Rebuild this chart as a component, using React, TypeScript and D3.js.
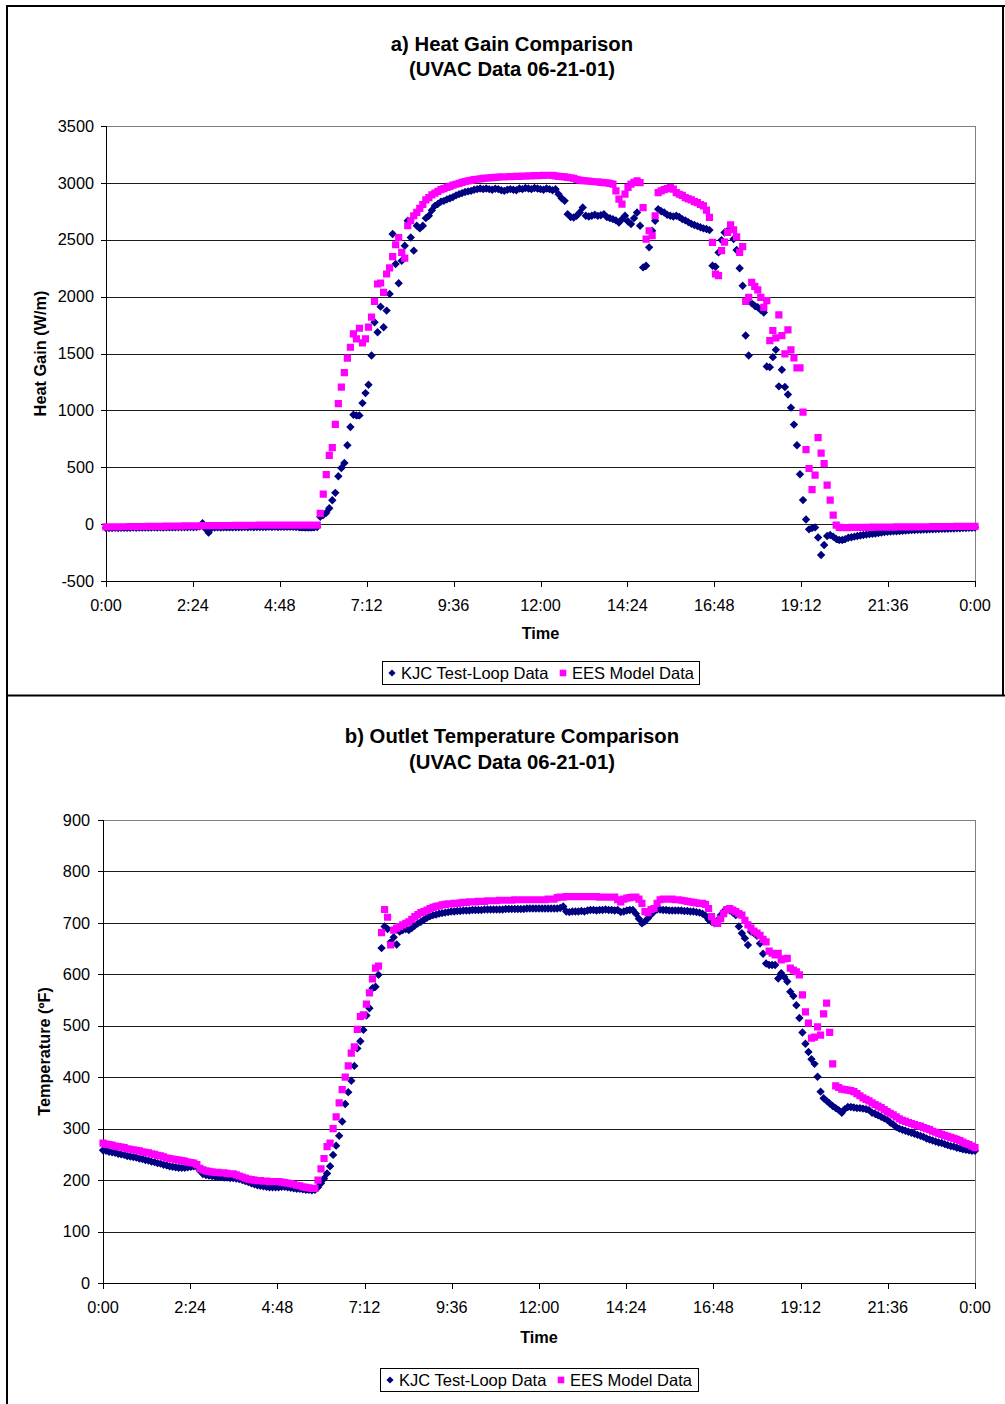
import React from 'react';
import * as d3 from 'd3';

// ---------- data ----------
const timeTickLabels = ['0:00', '2:24', '4:48', '7:12', '9:36', '12:00', '14:24', '16:48', '19:12', '21:36', '0:00'];
const heatTicks = [-500, 0, 500, 1000, 1500, 2000, 2500, 3000, 3500];
const tempTicks = [0, 100, 200, 300, 400, 500, 600, 700, 800, 900];
const seriesNames = ['KJC Test-Loop Data', 'EES Model Data'];

// sample times (minutes after midnight), one reading every 5 minutes
const minutes = d3.range(0, 1441, 5);

const kjcHeatGain = [
  -35, -34, -35, -33, -34, -33, -32, -33, -32, -31, -32, -31,
  -31, -30, -31, -30, -29, -30, -29, -30, -29, -28, -29, -28,
  -28, -27, -28, -27, -26, -27, -26, -20, 8, -40, -75, -35,
  -30, -29, -30, -29, -28, -29, -28, -27, -28, -27, -26, -27,
  -26, -27, -26, -25, -26, -25, -24, -25, -24, -25, -24, -23,
  -24, -23, -24, -25, -27, -29, -30, -31, -30, -29, -26, 64,
  80, 100, 140, 210, 275, 421, 494, 538, 693, 854, 962, 956,
  956, 1064, 1152, 1225, 1482, 1775, 1687, 1912, 1731, 1877, 2024, 2550,
  2287, 2117, 2316, 2447, 2667, 2520, 2404, 2623, 2600, 2623, 2690, 2711,
  2760, 2798, 2815, 2835, 2842, 2855, 2865, 2875, 2890, 2901, 2910, 2920,
  2925, 2930, 2940, 2945, 2950, 2945, 2950, 2945, 2940, 2948, 2945, 2935,
  2930, 2940, 2945, 2940, 2935, 2950, 2945, 2955, 2950, 2945, 2955, 2950,
  2945, 2940, 2950, 2945, 2935, 2945, 2900, 2865, 2842, 2725, 2700, 2696,
  2711, 2740, 2783, 2711, 2705, 2711, 2720, 2710, 2715, 2725, 2700, 2690,
  2681, 2670, 2652, 2680, 2711, 2660, 2638, 2690, 2740, 2623, 2257, 2272,
  2433, 2579, 2667, 2769, 2750, 2740, 2720, 2711, 2705, 2711, 2700, 2681,
  2670, 2655, 2640, 2630, 2620, 2610, 2600, 2594, 2585, 2272, 2263, 2389,
  2497, 2564, 2580, 2594, 2506, 2410, 2250, 2096, 1658, 1482, 1941, 1920,
  1906, 1883, 1860, 1386, 1380, 1468, 1532, 1211, 1357, 1205, 1140, 1024,
  875, 693, 439, 211, 41, -46, -35, -29, -117, -272, -184, -105,
  -96, -110, -130, -140, -140, -132, -120, -115, -110, -105, -100, -96,
  -92, -88, -85, -82, -78, -75, -70, -67, -65, -63, -62, -60,
  -58, -56, -55, -53, -52, -50, -49, -48, -47, -46, -45, -44,
  -43, -42, -41, -40, -39, -38, -37, -36, -35, -34, -33, -32,
  -30,
];

const eesHeatGain = [
  -25, -25, -24, -24, -24, -23, -23, -23, -22, -22, -22, -21,
  -21, -21, -20, -20, -20, -19, -19, -19, -18, -18, -18, -17,
  -17, -17, -16, -16, -16, -15, -15, -15, -14, -14, -14, -13,
  -13, -13, -13, -12, -12, -12, -12, -11, -11, -11, -11, -10,
  -10, -10, -10, -9, -9, -9, -9, -9, -8, -8, -8, -8,
  -8, -8, -8, -8, -8, -8, -8, -8, -8, -8, -8, 94,
  263, 436, 605, 673, 877, 1059, 1205, 1331, 1459, 1555, 1673, 1629,
  1722, 1594, 1629, 1731, 1819, 1959, 2111, 2120, 2038, 2199, 2252, 2351,
  2456, 2520, 2389, 2339, 2623, 2667, 2711, 2740, 2775, 2810, 2850, 2870,
  2895, 2910, 2925, 2940, 2950, 2960, 2970, 2980, 2988, 2995, 3005, 3012,
  3018, 3022, 3028, 3032, 3036, 3040, 3042, 3044, 3046, 3048, 3050, 3052,
  3053, 3054, 3055, 3056, 3057, 3058, 3059, 3060, 3061, 3062, 3063, 3064,
  3065, 3066, 3067, 3067, 3066, 3062, 3058, 3055, 3052, 3048, 3045, 3040,
  3030, 3025, 3020, 3018, 3015, 3012, 3010, 3008, 3005, 3003, 3000, 2995,
  2989, 2930, 2857, 2813, 2901, 2960, 2989, 3005, 3018, 3003, 2783, 2506,
  2579, 2535, 2711, 2915, 2930, 2940, 2950, 2959, 2945, 2915, 2900, 2890,
  2871, 2860, 2850, 2835, 2827, 2810, 2798, 2760, 2696, 2477, 2199, 2184,
  2404, 2480, 2564, 2632, 2588, 2526, 2389, 2439, 1959, 1994, 2126, 2090,
  2059, 1994, 1906, 1965, 1614, 1702, 1638, 1840, 1658, 1497, 1708, 1532,
  1462, 1374, 1374, 985, 655, 489, 304, 430, 761, 625, 532, 342,
  211, 79, -9, -29, -30, -30, -30, -29, -29, -29, -28, -28,
  -28, -28, -27, -27, -27, -27, -26, -26, -26, -26, -25, -25,
  -25, -25, -24, -24, -24, -24, -23, -23, -23, -23, -22, -22,
  -22, -22, -21, -21, -21, -21, -20, -20, -20, -20, -19, -19,
  -19,
];

const kjcOutletTemp = [
  258, 257, 255, 254, 253, 251, 250, 249, 247, 246, 245, 244,
  242, 241, 239, 238, 236, 235, 233, 232, 230, 229, 227, 226,
  225, 224, 224, 224, 225, 226, 227, 226, 218, 212, 210, 209,
  208, 207, 206, 206, 205, 205, 204, 204, 203, 202, 200, 198,
  196, 194, 192, 190, 189, 188, 187, 186, 186, 186, 186, 187,
  187, 186, 185, 184, 183, 183, 182, 181, 181, 180, 181, 186,
  194, 203, 213, 227, 249, 267, 286, 314, 348, 371, 393, 422,
  456, 470, 492, 520, 534, 573, 576, 599, 651, 693, 688, 663,
  672, 658, 683, 686, 688, 686, 690, 695, 699, 702, 706, 710,
  713, 715, 716, 718, 719, 720, 721, 722, 722, 723, 723, 724,
  724, 724, 725, 725, 725, 725, 726, 726, 726, 726, 726, 726,
  726, 727, 727, 727, 727, 727, 727, 727, 728, 728, 728, 728,
  728, 728, 728, 728, 728, 728, 728, 729, 732, 722, 721, 722,
  722, 722, 723, 722, 724, 725, 725, 724, 725, 725, 726, 725,
  725, 724, 725, 721, 722, 724, 725, 725, 718, 708, 699, 703,
  709, 716, 722, 726, 726, 725, 725, 724, 724, 724, 724, 724,
  723, 723, 722, 722, 721, 720, 718, 714, 706, 702, 699, 705,
  715, 722, 725, 724, 720, 715, 693, 680, 670, 657, 683, 680,
  675, 660, 640, 621, 618, 618, 618, 592, 602, 595, 586, 566,
  558, 540, 515, 487, 465, 449, 435, 426, 401, 372, 359, 354,
  349, 344, 340, 336, 331, 338, 342, 342, 341, 340, 340, 339,
  338, 336, 331, 329, 326, 323, 320, 317, 312, 308, 303, 300,
  298, 296, 294, 292, 290, 288, 286, 284, 281, 279, 277, 275,
  273, 272, 270, 268, 266, 265, 263, 262, 260, 259, 258, 257,
  257,
];

const eesOutletTemp = [
  272, 270, 269, 268, 266, 265, 264, 263, 261, 260, 259, 258,
  257, 255, 254, 253, 251, 250, 248, 247, 245, 243, 242, 241,
  240, 239, 238, 237, 235, 234, 233, 230, 223, 220, 218, 217,
  216, 215, 215, 214, 214, 213, 212, 212, 210, 208, 206, 204,
  202, 201, 200, 199, 199, 198, 198, 197, 197, 197, 197, 196,
  195, 194, 193, 192, 190, 189, 187, 186, 185, 184, 184, 200,
  222, 242, 265, 272, 300, 323, 350, 376, 400, 422, 447, 459,
  493, 518, 521, 542, 564, 591, 612, 616, 681, 726, 711, 657,
  686, 690, 693, 696, 699, 702, 707, 712, 716, 720, 722, 725,
  728, 730, 732, 733, 735, 736, 737, 737, 738, 738, 739, 740,
  740, 741, 741, 741, 742, 742, 742, 743, 743, 743, 743, 744,
  744, 744, 744, 744, 745, 745, 745, 745, 745, 745, 745, 745,
  745, 745, 745, 746, 746, 746, 749, 750, 750, 751, 751, 751,
  751, 751, 751, 751, 751, 751, 751, 751, 750, 750, 750, 750,
  750, 750, 745, 741, 746, 748, 749, 750, 750, 746, 738, 722,
  720, 726, 728, 738, 745, 746, 746, 746, 746, 745, 745, 744,
  743, 742, 741, 740, 739, 738, 738, 736, 728, 712, 702, 699,
  708, 718, 726, 728, 725, 722, 718, 715, 705, 696, 690, 684,
  680, 676, 668, 663, 645, 641, 638, 641, 628, 630, 631, 612,
  608, 605, 599, 560, 527, 505, 476, 478, 498, 482, 523, 544,
  487, 426, 383, 380, 377, 376, 375, 374, 372, 368, 364, 360,
  357, 354, 350, 347, 344, 341, 337, 333, 330, 327, 323, 319,
  316, 314, 312, 310, 308, 306, 305, 302, 300, 298, 295, 293,
  291, 289, 287, 285, 283, 281, 279, 277, 274, 271, 269, 266,
  263,
];

// ---------- styling ----------
const FONT = '"Liberation Sans", Arial, Helvetica, sans-serif';
const NAVY = '#000080';
const MAGENTA = '#FF00FF';
const DIAMOND_R = 4.2;
const SQUARE = 7.2;

type PanelProps = {
  left: number; right: number; top: number; bottom: number;
  yDomain: [number, number];
  yTicks: number[];
  kjc: number[];
  ees: number[];
  title1: string; title2: string;
  title1Y: number; title2Y: number;
  yLabel: string; yLabelX: number;
  xLabelY: number; timeY: number;
  legendX: number; legendY: number; legendW: number;
  yLabelGap: number;
};

function diamondPath(xs: number[], ys: number[], r = DIAMOND_R) {
  return xs.map((x, i) => `M${x},${ys[i] - r}L${x + r},${ys[i]}L${x},${ys[i] + r}L${x - r},${ys[i]}Z`).join('');
}
function squarePath(xs: number[], ys: number[], s = SQUARE) {
  return xs.map((x, i) => `M${x - s / 2},${ys[i] - s / 2}h${s}v${s}h${-s}Z`).join('');
}

function Panel(p: PanelProps) {
  const x = d3.scaleLinear().domain([0, 1440]).range([p.left, p.right]);
  const y = d3.scaleLinear().domain(p.yDomain).range([p.bottom, p.top]);
  const xTicks = d3.range(0, 1441, 144);
  const cx = (p.left + p.right) / 2;
  const cy = (p.top + p.bottom) / 2;
  const xs = minutes.map((t) => x(t));
  const kjcY = p.kjc.map((v) => y(v));
  const eesY = p.ees.map((v) => y(v));
  const lx = p.legendX;
  const ly = p.legendY;
  const lh = 23;
  const lmid = ly + lh / 2;
  return (
    <g fontFamily={FONT}>
      <text x={512} y={p.title1Y} textAnchor="middle" fontSize={20.3} fontWeight="bold">{p.title1}</text>
      <text x={512} y={p.title2Y} textAnchor="middle" fontSize={20.3} fontWeight="bold">{p.title2}</text>

      {/* gridlines */}
      {p.yTicks.slice(1, -1).map((v) => (
        <line key={v} x1={p.left} x2={p.right} y1={Math.round(y(v)) + 0.5} y2={Math.round(y(v)) + 0.5} stroke="#1a1a1a" strokeWidth={1} />
      ))}
      {/* plot area border (top / right) */}
      <line x1={p.left} x2={p.right} y1={p.top + 0.5} y2={p.top + 0.5} stroke="#808080" strokeWidth={1} />
      <line x1={p.right + 0.5} x2={p.right + 0.5} y1={p.top} y2={p.bottom} stroke="#808080" strokeWidth={1} />
      {/* axes */}
      <line x1={p.left + 0.5} x2={p.left + 0.5} y1={p.top} y2={p.bottom} stroke="#000" strokeWidth={1} />
      <line x1={p.left} x2={p.right} y1={p.bottom + 0.5} y2={p.bottom + 0.5} stroke="#000" strokeWidth={1} />
      {p.yTicks.map((v) => (
        <g key={'yt' + v}>
          <line x1={p.left - 5} x2={p.left} y1={Math.round(y(v)) + 0.5} y2={Math.round(y(v)) + 0.5} stroke="#000" />
          <text x={p.left - p.yLabelGap} y={y(v)} dy="0.35em" textAnchor="end" fontSize={16.3}>{v}</text>
        </g>
      ))}
      {xTicks.map((t, i) => (
        <g key={'xt' + i}>
          <line x1={Math.round(x(t)) + 0.5} x2={Math.round(x(t)) + 0.5} y1={p.bottom} y2={p.bottom + 6} stroke="#000" />
          <text x={x(t)} y={p.xLabelY} textAnchor="middle" fontSize={16.3}>{timeTickLabels[i]}</text>
        </g>
      ))}
      <text x={cx} y={p.timeY} textAnchor="middle" fontSize={16.3} fontWeight="bold">Time</text>
      <text transform={`translate(${p.yLabelX},${cy}) rotate(-90)`} textAnchor="middle" dy="0.35em" fontSize={16.3} fontWeight="bold">{p.yLabel}</text>

      {/* data */}
      <path d={diamondPath(xs, kjcY)} fill={NAVY} />
      <path d={squarePath(xs, eesY)} fill={MAGENTA} />

      {/* legend */}
      <rect x={lx + 0.5} y={ly + 0.5} width={p.legendW} height={lh} fill="#fff" stroke="#000" strokeWidth={1} />
      <path d={diamondPath([lx + 10], [lmid + 0.5], 3.6)} fill={NAVY} />
      <text x={lx + 19} y={lmid + 0.5} dy="0.35em" fontSize={16.5}>{seriesNames[0]}</text>
      <path d={squarePath([lx + 181], [lmid + 0.5], 6.6)} fill={MAGENTA} />
      <text x={lx + 190} y={lmid + 0.5} dy="0.35em" fontSize={16.5}>{seriesNames[1]}</text>
    </g>
  );
}

export default function App() {
  return (
    <svg width={1005} height={1404} style={{ position: 'absolute', left: 0, top: 0, background: '#fff' }}>
      <rect x={0} y={0} width={1005} height={1404} fill="#fff" />
      {/* frames */}
      <line x1={7} x2={7} y1={5} y2={1404} stroke="#000" strokeWidth={2} />
      <line x1={6} x2={1005} y1={6} y2={6} stroke="#000" strokeWidth={2} />
      <line x1={1003} x2={1003} y1={5} y2={696} stroke="#000" strokeWidth={2} />
      <line x1={6} x2={1005} y1={695.5} y2={695.5} stroke="#000" strokeWidth={2} />

      <Panel
        left={106} right={975} top={126} bottom={581}
        yDomain={[-500, 3500]} yTicks={heatTicks}
        kjc={kjcHeatGain} ees={eesHeatGain}
        title1="a) Heat Gain Comparison" title2="(UVAC Data 06-21-01)"
        title1Y={51} title2Y={76}
        yLabel="Heat Gain (W/m)" yLabelX={40}
        xLabelY={611} timeY={639}
        legendX={382} legendY={661} legendW={317}
        yLabelGap={12}
      />
      <Panel
        left={103} right={975} top={820} bottom={1283}
        yDomain={[0, 900]} yTicks={tempTicks}
        kjc={kjcOutletTemp} ees={eesOutletTemp}
        title1="b) Outlet Temperature Comparison" title2="(UVAC Data 06-21-01)"
        title1Y={743} title2Y={769}
        yLabel="Temperature (ºF)" yLabelX={44}
        xLabelY={1313} timeY={1343}
        legendX={380} legendY={1368} legendW={318}
        yLabelGap={13}
      />
    </svg>
  );
}
